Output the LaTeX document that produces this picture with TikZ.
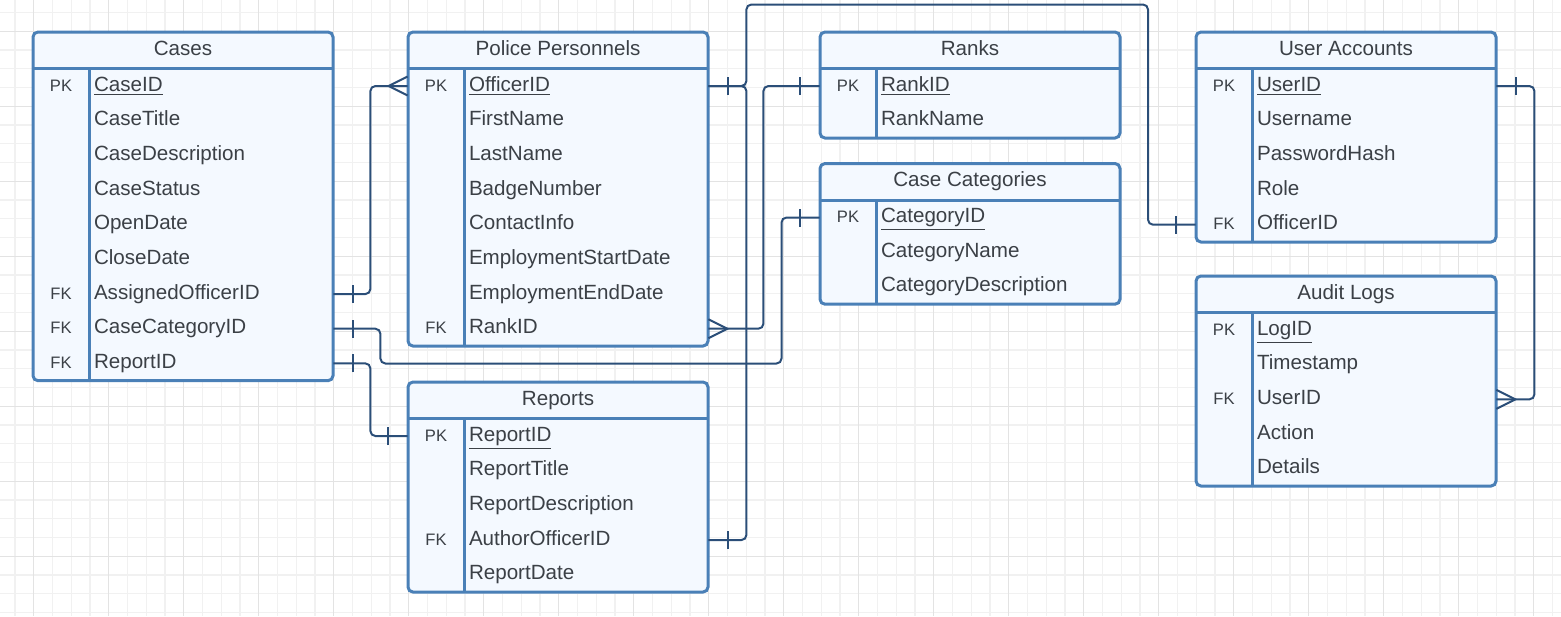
\documentclass[tikz,border=0pt]{standalone}
\usepackage{fontspec}
\setmainfont{Liberation Sans}
\usetikzlibrary{calc}
\definecolor{tableblue}{HTML}{4A80B7}
\definecolor{tablefill}{HTML}{F4F9FF}
\definecolor{relblue}{HTML}{2B4E78}
\definecolor{textgray}{HTML}{3B4046}
\definecolor{gridlight}{HTML}{F1F1F1}
\definecolor{griddark}{HTML}{E3E3E3}
\newcommand{\fieldfont}{\fontsize{10.3}{12}\selectfont}
\newcommand{\keyfont}{\fontsize{8.3}{10}\selectfont}
\tikzstyle{tablebox}=[draw=tableblue, fill=tablefill, line width=1.5pt, rounded corners=2.5pt]
\tikzstyle{tableline}=[draw=tableblue, line width=1.5pt]
\tikzstyle{titlecell}=[inner sep=0pt, font=\fieldfont, text=textgray, text height=7.5pt, text depth=2.5pt]
\tikzstyle{rowcell}=[inner sep=0pt, text width=150pt, align=left, font=\fieldfont, text=textgray, text height=7.5pt, text depth=2.5pt]
\tikzstyle{relation}=[draw=relblue, line width=1pt, rounded corners=2.5pt]
\tikzstyle{relmark}=[draw=relblue, line width=1pt]
\tikzstyle{gridminor}=[draw=gridlight, line width=0.6pt]
\tikzstyle{gridmajor}=[draw=griddark, line width=0.6pt]

\begin{document}
\begin{tikzpicture}[x=0.5pt, y=-0.5pt]
\useasboundingbox (0,0) rectangle (1561,616);

    % Background grid
    \foreach \gx in {14.95,33.7,...,1561}
        \draw[gridminor] (\gx,0) -- (\gx,616);
    \foreach \gy in {12.55,31.3,...,616}
        \draw[gridminor] (0,\gy) -- (1561,\gy);
    \foreach \gx in {33.7,108.7,...,1561}
        \draw[gridmajor] (\gx,0) -- (\gx,616);
    \foreach \gy in {31.3,106.3,...,616}
        \draw[gridmajor] (0,\gy) -- (1561,\gy);

    % Cases table
    \def\dx{33}; \def\dy{32};
    \draw[tablebox] (\dx,\dy) rectangle ++(300,348.7);
    \draw[tableline] (\dx,\dy+36.7) -- ++(300,0) (\dx+56,\dy+36.7) -- ++(0,312);
    \node[titlecell] (cases) at (\dx+150,\dy+18.35) {Cases};
    \foreach \i/\key/\field in {1/PK/\underline{CaseID}, 2//CaseTitle, 3//CaseDescription, 4//CaseStatus, 5//OpenDate, 6//CloseDate, 7/FK/AssignedOfficerID, 8/FK/CaseCategoryID, 9/FK/ReportID}
        \node[rowcell] (cases-\i) at (\dx+150,\dy+19.35+34.67*\i) {\makebox[28pt]{\keyfont \key}\hspace{2.5pt}\field};

    % Police Personnels table
    \def\dx{408}; \def\dy{32};
    \draw[tablebox] (\dx,\dy) rectangle ++(300,314.06);
    \draw[tableline] (\dx,\dy+36.7) -- ++(300,0) (\dx+56,\dy+36.7) -- ++(0,277.36);
    \node[titlecell] (police) at (\dx+150,\dy+18.35) {Police Personnels};
    \foreach \i/\key/\field in {1/PK/\underline{OfficerID}, 2//FirstName, 3//LastName, 4//BadgeNumber, 5//ContactInfo, 6//EmploymentStartDate, 7//EmploymentEndDate, 8/FK/RankID}
        \node[rowcell] (police-\i) at (\dx+150,\dy+19.35+34.67*\i) {\makebox[28pt]{\keyfont \key}\hspace{2.5pt}\field};

    % Reports table
    \def\dx{408}; \def\dy{382};
    \draw[tablebox] (\dx,\dy) rectangle ++(300,210.05);
    \draw[tableline] (\dx,\dy+36.7) -- ++(300,0) (\dx+56,\dy+36.7) -- ++(0,173.35);
    \node[titlecell] (reports) at (\dx+150,\dy+18.35) {Reports};
    \foreach \i/\key/\field in {1/PK/\underline{ReportID}, 2//ReportTitle, 3//ReportDescription, 4/FK/AuthorOfficerID, 5//ReportDate}
        \node[rowcell] (reports-\i) at (\dx+150,\dy+19.35+34.67*\i) {\makebox[28pt]{\keyfont \key}\hspace{2.5pt}\field};

    % Ranks table
    \def\dx{820}; \def\dy{32};
    \draw[tablebox] (\dx,\dy) rectangle ++(300,106.04);
    \draw[tableline] (\dx,\dy+36.7) -- ++(300,0) (\dx+56,\dy+36.7) -- ++(0,69.34);
    \node[titlecell] (ranks) at (\dx+150,\dy+18.35) {Ranks};
    \foreach \i/\key/\field in {1/PK/\underline{RankID}, 2//RankName}
        \node[rowcell] (ranks-\i) at (\dx+150,\dy+19.35+34.67*\i) {\makebox[28pt]{\keyfont \key}\hspace{2.5pt}\field};

    % Case Categories table
    \def\dx{820}; \def\dy{163.5};
    \draw[tablebox] (\dx,\dy) rectangle ++(300,140.71);
    \draw[tableline] (\dx,\dy+36.7) -- ++(300,0) (\dx+56,\dy+36.7) -- ++(0,104.01);
    \node[titlecell] (cats) at (\dx+150,\dy+18.35) {Case Categories};
    \foreach \i/\key/\field in {1/PK/\underline{CategoryID}, 2//CategoryName, 3//CategoryDescription}
        \node[rowcell] (cats-\i) at (\dx+150,\dy+19.35+34.67*\i) {\makebox[28pt]{\keyfont \key}\hspace{2.5pt}\field};

    % User Accounts table
    \def\dx{1196}; \def\dy{32};
    \draw[tablebox] (\dx,\dy) rectangle ++(300,210.05);
    \draw[tableline] (\dx,\dy+36.7) -- ++(300,0) (\dx+56,\dy+36.7) -- ++(0,173.35);
    \node[titlecell] (ua) at (\dx+150,\dy+18.35) {User Accounts};
    \foreach \i/\key/\field in {1/PK/\underline{UserID}, 2//Username, 3//PasswordHash, 4//Role, 5/FK/OfficerID}
        \node[rowcell] (ua-\i) at (\dx+150,\dy+19.35+34.67*\i) {\makebox[28pt]{\keyfont \key}\hspace{2.5pt}\field};

    % Audit Logs table
    \def\dx{1196}; \def\dy{276};
    \draw[tablebox] (\dx,\dy) rectangle ++(300,210.05);
    \draw[tableline] (\dx,\dy+36.7) -- ++(300,0) (\dx+56,\dy+36.7) -- ++(0,173.35);
    \node[titlecell] (audit) at (\dx+150,\dy+18.35) {Audit Logs};
    \foreach \i/\key/\field in {1/PK/\underline{LogID}, 2//Timestamp, 3/FK/UserID, 4//Action, 5//Details}
        \node[rowcell] (audit-\i) at (\dx+150,\dy+19.35+34.67*\i) {\makebox[28pt]{\keyfont \key}\hspace{2.5pt}\field};

    % Connect tables with relations
    \coordinate (catdrop) at (781.5,363.5);
    \coordinate (topbend) at (1148,4.5);
    \draw[relation] (cases-7.east) -- ++(37,0) |- (police-1.west);
    \draw[relation] (cases-8.east) -- ++(47,0) |- (catdrop) |- (cats-1.west);
    \draw[relation] (cases-9.east) -- ++(37,0) |- (reports-1.west);
    \draw[relation] (police-8.east) -- ++(55,0) |- (ranks-1.west);
    \draw[relation] (reports-4.east) -- ++(38,0) |- (police-1.east);
    \draw[relation] (police-1.east) -- ++(38,0) |- (topbend) |- (ua-5.west);
    \draw[relation] (ua-1.east) -- ++(38,0) |- (audit-3.east);

    % one ends
    \foreach \anc/\dir in {cases-7.east/1, cases-8.east/1, cases-9.east/1, cats-1.west/-1, ranks-1.west/-1, reports-1.west/-1, reports-4.east/1, police-1.east/1, ua-5.west/-1, ua-1.east/1}
        \draw[relmark] ([xshift=\dir*10pt,yshift=-4.5pt]\anc) -- ([xshift=\dir*10pt,yshift=4.5pt]\anc);
    % many ends
    \foreach \anc/\dir in {police-1.west/-1, police-8.east/1, audit-3.east/1}
        \draw[relmark] ([yshift=4.75pt]\anc) -- ([xshift=\dir*9.5pt]\anc) -- ([yshift=-4.75pt]\anc);

\end{tikzpicture}
\end{document}
